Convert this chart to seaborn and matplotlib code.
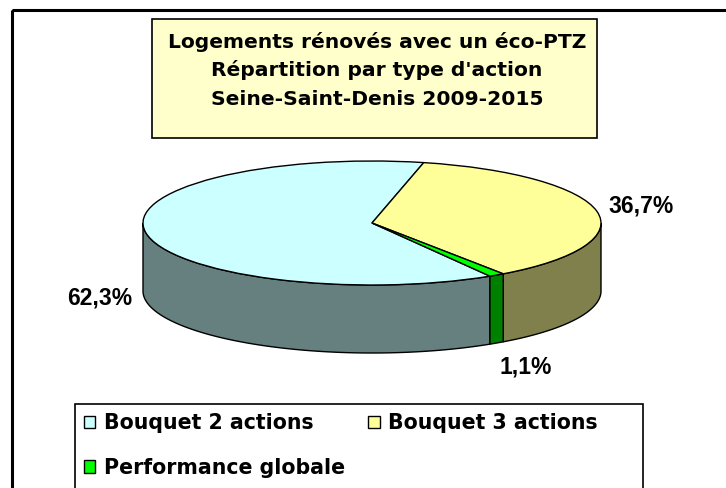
import numpy as np
import matplotlib
matplotlib.use("Agg")
import matplotlib.pyplot as plt
from matplotlib.patches import Rectangle, Polygon
import matplotlib.colors as mcolors
import seaborn as sns

# ---- data ----
categories = ["Bouquet 2 actions", "Bouquet 3 actions", "Performance globale"]
values = [62.3, 36.7, 1.1]
top_colors = ["#CCFFFF", "#FFFF99", "#00FF00"]
title_lines = ["Logements rénovés avec un éco-PTZ",
               "Répartition par type d'action",
               "Seine-Saint-Denis 2009-2015"]

# ---- styling / layout ----
label_pos_px = [(100, 298), (641, 206), (526, 367)]
W, H = 726, 488
cx_px, cy_px = 372, 223
rx_px, ry_px, depth_px = 229, 62, 68

sns.set_theme(style="white")
plt.rcParams["font.family"] = ["DejaVu Sans"]
plt.rcParams["text.color"] = "black"

fig = plt.figure(figsize=(W / 100, H / 100), dpi=100)
fig.patch.set_facecolor("white")

# overlay axes in pixel coordinates
ov = fig.add_axes([0, 0, 1, 1], zorder=0)
ov.set_xlim(0, W)
ov.set_ylim(H, 0)
ov.axis("off")

# outer frame (cropped on right/bottom)
ov.add_patch(Rectangle((12, 10), 900, 700, fill=False, edgecolor="black", lw=2.2))
# title box
ov.add_patch(Rectangle((152, 19), 445, 119, facecolor="#FFFFCC", edgecolor="black", lw=1.2))
for line, yb in zip(title_lines, [48, 76.5, 105]):
    ov.text(377, yb, line, ha="center", va="baseline", fontsize=14.6,
            fontweight="bold", family="DejaVu Sans", color="black")
# legend box
ov.add_patch(Rectangle((75, 404), 568, 200, facecolor="white", edgecolor="black", lw=1.2))

# pie axes: 1 data unit = rx_px horizontally, ry_px vertically
xl = (-1.3, 1.3)
yl = (-2.6, 1.4)
left = (cx_px + xl[0] * rx_px) / W
width = (xl[1] - xl[0]) * rx_px / W
bottom = ((H - cy_px) + yl[0] * ry_px) / H
height = (yl[1] - yl[0]) * ry_px / H
ax = fig.add_axes([left, bottom, width, height], zorder=1)
ax.patch.set_alpha(0)

wedges, _ = ax.pie(values, colors=top_colors, startangle=-59, counterclock=False,
                   wedgeprops=dict(edgecolor="black", linewidth=1.0, zorder=3))
ax.set_aspect("auto")
ax.set_xlim(*xl)
ax.set_ylim(*yl)
ax.axis("off")

D = depth_px / ry_px
for w, col in zip(wedges, top_colors):
    side = tuple(0.5 * c for c in mcolors.to_rgb(col))
    for k in range(-1080, 1081, 360):
        lo = max(w.theta1 + k, 180)
        hi = min(w.theta2 + k, 360)
        if hi > lo:
            t = np.radians(np.linspace(lo, hi, 200))
            xs = np.cos(t)
            ys = np.sin(t)
            pts = np.concatenate([np.column_stack([xs, ys]),
                                  np.column_stack([xs[::-1], ys[::-1] - D])])
            ax.add_patch(Polygon(pts, closed=True, facecolor=side,
                                 edgecolor="black", lw=1.0, zorder=2))

# percentage labels
for v, (px, py) in zip(values, label_pos_px):
    ov.text(px, py, f"{v:.1f}%".replace(".", ","), ha="center", va="center",
            fontsize=16.5, fontweight="bold", family="Liberation Sans", color="black")

# legend (row-major order like the reference)
order = [0, 2, 1]
fs = 14.8
leg = fig.legend([wedges[i] for i in order], [categories[i] for i in order],
                 ncol=2, frameon=False, loc="upper left",
                 bbox_to_anchor=(84 / W, 1 - 413 / H),
                 prop=dict(family="DejaVu Sans", weight="bold", size=fs),
                 handlelength=0.55, handleheight=0.55, handletextpad=0.4,
                 columnspacing=1.15, labelspacing=1.2, borderpad=0, borderaxespad=0,
                 labelcolor="black")

fig.savefig("out.png", dpi=100)
